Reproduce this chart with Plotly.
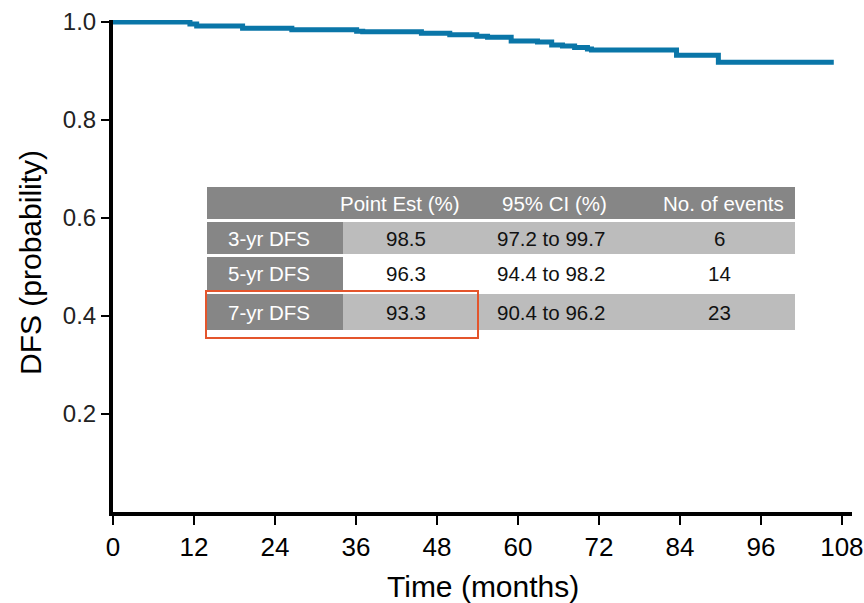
import plotly.graph_objects as go

# ---- data ----
months = [0, 11.4, 12.4, 19.2, 26.5, 36.1, 37.0, 45.7, 49.9, 53.9, 55.5, 59.0,
          62.9, 65.0, 66.6, 68.4, 70.3, 70.9, 83.5, 89.7, 106.8]
dfs = [1.0, 0.996, 0.992, 0.987, 0.984, 0.981, 0.980, 0.977, 0.974, 0.971, 0.969,
       0.961, 0.959, 0.953, 0.951, 0.948, 0.945, 0.943, 0.932, 0.918, 0.918]

x_ticks = [0, 12, 24, 36, 48, 60, 72, 84, 96, 108]
y_ticks = [0.2, 0.4, 0.6, 0.8, 1.0]

table_header = ["Point Est (%)", "95% CI (%)", "No. of events"]
row_labels = ["3-yr DFS", "5-yr DFS", "7-yr DFS"]
point_est = ["98.5", "96.3", "93.3"]
ci_95 = ["97.2 to 99.7", "94.4 to 98.2", "90.4 to 96.2"]
n_events = ["6", "14", "23"]

# ---- layout geometry ----
W, H = 864, 603
PL, PR, PT, PB = 113, 852, 20, 512


def px(x):
    return (x - PL) / (PR - PL)


def py(y):
    return (PB - y) / (PB - PT)


DARK = "#868686"
LIGHT = "#bcbcbc"
RED = "#e4552c"
BLUE = "#0a76a8"
FONT = "Liberation Sans, Arial, sans-serif"
NARROW = "Liberation Sans Narrow, Arial Narrow, Liberation Sans, sans-serif"

fig = go.Figure()
fig.add_trace(go.Scatter(x=months, y=dfs, mode="lines", line=dict(color=BLUE, width=5, shape="hv"),
                         hoverinfo="x+y", showlegend=False))

shapes = []
annotations = []

# header row
shapes.append(dict(type="rect", xref="paper", yref="paper", x0=px(207), x1=px(795), y0=py(219), y1=py(187),
                   fillcolor=DARK, line=dict(width=0), layer="above"))
col_centers_hdr = [400, 554, 723]
col_centers_val = [406, 551, 719]
TS = 20.5
for t, cx in zip(table_header, col_centers_hdr):
    annotations.append(dict(xref="paper", yref="paper", x=px(cx), y=py(203), text=t, showarrow=False,
                            font=dict(family=FONT, size=TS, color="white"), xanchor="center", yanchor="middle"))

rows_y = [(222, 254), (257, 290), (294, 330)]
row_light = [True, False, True]
for i, ((y0, y1), lt) in enumerate(zip(rows_y, row_light)):
    shapes.append(dict(type="rect", xref="paper", yref="paper", x0=px(207), x1=px(343), y0=py(y1), y1=py(y0),
                       fillcolor=DARK, line=dict(width=0), layer="above"))
    if lt:
        shapes.append(dict(type="rect", xref="paper", yref="paper", x0=px(343), x1=px(795), y0=py(y1), y1=py(y0),
                           fillcolor=LIGHT, line=dict(width=0), layer="above"))
    cy = py((y0 + y1) / 2)
    annotations.append(dict(xref="paper", yref="paper", x=px(226), y=cy, text=row_labels[i], showarrow=False,
                            font=dict(family=FONT, size=TS, color="white"), xanchor="left", yanchor="middle"))
    for val, cx in zip([point_est[i], ci_95[i], n_events[i]], col_centers_val):
        annotations.append(dict(xref="paper", yref="paper", x=px(cx), y=cy, text=val, showarrow=False,
                                font=dict(family=FONT, size=TS, color="#111111"), xanchor="center",
                                yanchor="middle"))

# red highlight box
shapes.append(dict(type="rect", xref="paper", yref="paper", x0=px(206), x1=px(478), y0=py(338), y1=py(291),
                   fillcolor="rgba(0,0,0,0)", line=dict(color=RED, width=2), layer="above"))

# y axis title
annotations.append(dict(xref="paper", yref="paper", x=px(30), y=py(263), text="DFS (probability)",
                        showarrow=False, textangle=-90, font=dict(family=FONT, size=30, color="black"),
                        xanchor="center", yanchor="middle"))
# x axis title
annotations.append(dict(xref="paper", yref="paper", x=px(483), y=py(586), text="Time (months)",
                        showarrow=False, font=dict(family=NARROW, size=30, color="black"),
                        xanchor="center", yanchor="middle"))

fig.update_layout(
    width=W, height=H, autosize=False,
    margin=dict(l=PL, r=W - PR, t=PT, b=H - PB, pad=0),
    plot_bgcolor="white", paper_bgcolor="white",
    shapes=shapes, annotations=annotations,
    xaxis=dict(range=[0, 109.5], tickvals=x_ticks, ticktext=[str(v) for v in x_ticks], automargin=False,
               showgrid=False, zeroline=False, showline=True, linecolor="black", linewidth=4,
               ticks="outside", ticklen=9, tickwidth=2, tickcolor="black",
               tickfont=dict(family=NARROW, size=26, color="black")),
    yaxis=dict(range=[0, 1.004], tickvals=y_ticks, ticktext=[f"{v:.1f}" for v in y_ticks], automargin=False,
               showgrid=False, zeroline=False, showline=True, linecolor="black", linewidth=4,
               ticks="outside", ticklen=8, tickwidth=2, tickcolor="black",
               tickfont=dict(family=FONT, size=24, color="#222222")),
)

fig.write_html("out.html", config={"displayModeBar": False},
               post_script="document.body.style.margin='0px';document.body.style.overflow='hidden';")
